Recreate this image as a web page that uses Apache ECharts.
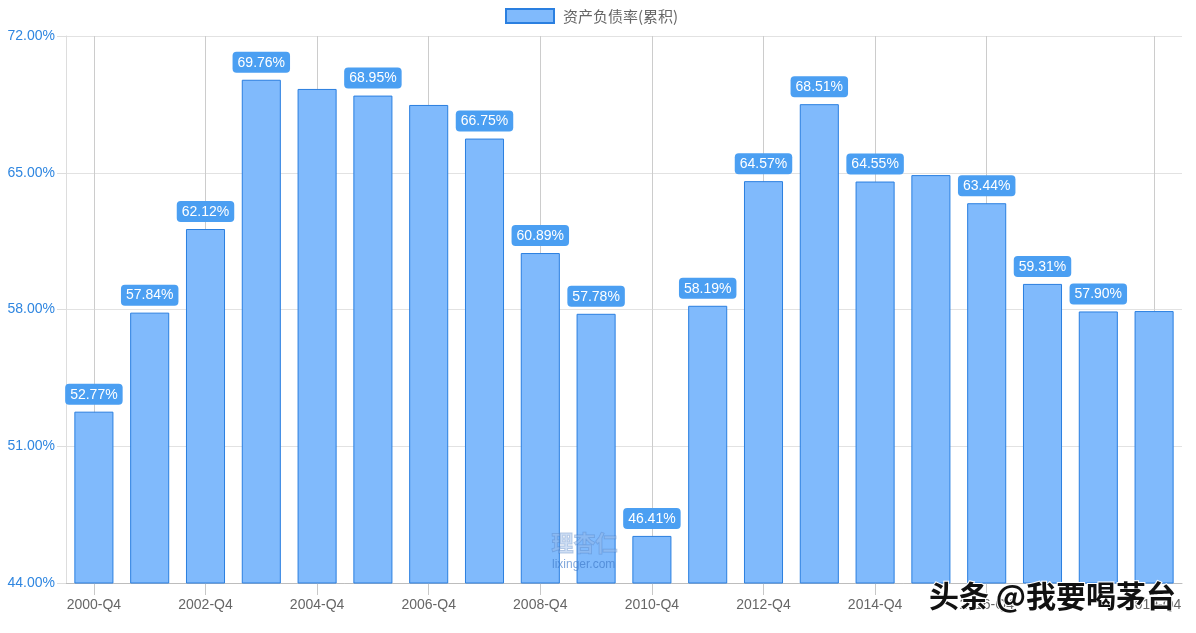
<!DOCTYPE html>
<html>
<head>
<meta charset="utf-8">
<script src="https://cdn.jsdelivr.net/npm/echarts@6/dist/echarts.min.js"></script>
<style>
html,body{margin:0;padding:0;background:#fff;}
#chart{width:1196px;height:633px;}
</style>
</head>
<body>
<div id="chart"></div>
<script>
const categories = ['2000-Q4','2001-Q4','2002-Q4','2003-Q4','2004-Q4','2005-Q4','2006-Q4','2007-Q4','2008-Q4','2009-Q4',
  '2010-Q4','2011-Q4','2012-Q4','2013-Q4','2014-Q4','2015-Q4','2016-Q4','2017-Q4','2018-Q4','2019-Q4'];
const debtRatio = [52.77, 57.84, 62.12, 69.76, 69.29, 68.95, 68.47, 66.75, 60.89, 57.78,
  46.41, 58.19, 64.57, 68.51, 64.55, 64.88, 63.44, 59.31, 57.90, 57.92];
const hiddenLabelIdx = [4, 6, 15, 19];
const seriesName = '资产负债率(累积)';
const yTicks = [44, 51, 58, 65, 72];

const shownCat = (i) => (i % 2 === 0 && i <= 16) || i === categories.length - 1;

const chart = echarts.init(document.getElementById('chart'));
const font = 'Arial, "Liberation Sans", "Noto Sans CJK SC", sans-serif';
chart.setOption({
  animation: false,
  textStyle: { fontFamily: font },
  legend: {
    top: 3, left: 500,
    itemWidth: 48, itemHeight: 14, itemGap: 10,
    icon: 'rect',
    textStyle: { color: '#666', fontSize: 15, padding: [0, 0, 0, 4], fontFamily: '"Noto Sans CJK SC", sans-serif' },
    data: [seriesName]
  },
  grid: { left: 66, right: 14, top: 36, bottom: 50 },
  xAxis: {
    type: 'category',
    data: categories,
    boundaryGap: true,
    axisLine: { lineStyle: { color: '#bdbdbd' } },
    axisTick: { show: true, alignWithLabel: true, interval: (i) => shownCat(i), length: 12, lineStyle: { color: '#c8c8c8' } },
    axisLabel: { interval: (i) => shownCat(i), color: '#666', fontSize: 14, margin: 15, fontFamily: font },
    splitLine: { show: true, alignWithLabel: true, interval: (i) => shownCat(i), lineStyle: { color: '#cccccc' } }
  },
  yAxis: {
    type: 'value',
    min: yTicks[0], max: yTicks[yTicks.length - 1], interval: 7,
    axisLine: { show: true, lineStyle: { color: '#dddddd' } },
    axisTick: { show: true, length: 9, lineStyle: { color: '#dddddd' } },
    axisLabel: { color: '#2f86e0', fontSize: 14, margin: 11, formatter: (v) => v.toFixed(2) + '%', fontFamily: font },
    splitLine: { show: true, lineStyle: { color: '#e2e2e2' } }
  },
  series: [{
    name: seriesName,
    type: 'bar',
    barWidth: '70%',
    data: debtRatio.map((v, i) => ({
      value: v,
      label: { show: hiddenLabelIdx.indexOf(i) < 0 }
    })),
    itemStyle: { color: '#80bafc', borderColor: '#2a7fe0', borderWidth: 1 },
    label: {
      show: true, position: 'top', distance: 7,
      formatter: (p) => p.value.toFixed(2) + '%',
      color: '#fff', fontSize: 14, fontFamily: font,
      backgroundColor: '#4b9ff2', borderRadius: 4, padding: [3, 5, 2, 5], lineHeight: 16
    }
  }],
  graphic: [
    { type: 'text', left: 551, top: 531, silent: true, z: 100,
      style: { text: '理杏仁', fill: 'rgba(150,185,230,0.45)', stroke: 'rgba(60,110,180,0.35)', lineWidth: 1,
        font: 'bold 22px "Noto Sans CJK SC", sans-serif' } },
    { type: 'text', left: 552, top: 559, silent: true, z: 100,
      style: { text: 'lixinger.com', fill: 'rgba(60,120,200,0.65)', font: '12px Arial, sans-serif' } },
    { type: 'text', left: 928, top: 580, silent: true, z: 100,
      style: { text: '头条 @我要喝茅台', fill: '#111', stroke: '#fff', lineWidth: 2,
        font: 'bold 30px "Noto Sans CJK SC", sans-serif' } }
  ]
});
</script>
</body>
</html>
